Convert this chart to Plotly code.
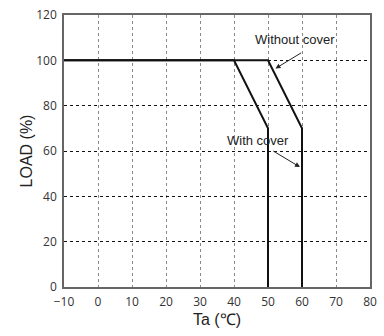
import plotly.graph_objects as go

with_cover_x = [-10, 40, 50, 50]
with_cover_y = [100, 100, 70, 0]
without_cover_x = [-10, 50, 60, 60]
without_cover_y = [100, 100, 70, 0]

x_ticks = [-10, 0, 10, 20, 30, 40, 50, 60, 70, 80]
y_ticks = [0, 20, 40, 60, 80, 100, 120]

fig = go.Figure()
fig.add_trace(go.Scatter(x=without_cover_x, y=without_cover_y, mode="lines",
                         line=dict(color="#111111", width=2), showlegend=False))
fig.add_trace(go.Scatter(x=with_cover_x, y=with_cover_y, mode="lines",
                         line=dict(color="#111111", width=2), showlegend=False))

tickfont = dict(family="Open Sans, Noto Sans, sans-serif", size=12, color="#333333")
titlefont = dict(family="Liberation Sans, Arial, sans-serif", size=16, color="#222222")

fig.update_xaxes(range=[-10, 80], tickvals=x_ticks, showgrid=True, gridcolor="#888888",
                 griddash="dot", gridwidth=1, zeroline=False, showline=True,
                 linecolor="#666666", linewidth=1.5, mirror=True, ticks="",
                 ticklabelstandoff=3, automargin=False,
                 tickfont=tickfont, title=dict(text="Ta (℃)", font=titlefont, standoff=5))
fig.update_yaxes(range=[0, 120], tickvals=y_ticks, showgrid=True, gridcolor="#111111",
                 griddash="dot", gridwidth=1, zeroline=False, showline=True,
                 linecolor="#666666", linewidth=1.5, mirror=True, ticks="",
                 ticklabelstandoff=3, automargin=False,
                 tickfont=tickfont, title=dict(text="LOAD (%)", font=titlefont, standoff=0))

annfont = dict(family="Liberation Sans, Arial, sans-serif", size=13, color="#222222")
fig.add_annotation(x=57.8, y=109, text="Without cover", showarrow=False, font=annfont)
fig.add_annotation(x=52.2, y=96.4, ax=60.2, ay=103.7, xref="x", yref="y",
                   axref="x", ayref="y", text="", showarrow=True, arrowhead=2,
                   arrowsize=1, arrowwidth=1, arrowcolor="#222222", standoff=0)
fig.add_annotation(x=47, y=64.5, text="With cover", showarrow=False, font=annfont)
fig.add_annotation(x=59.4, y=52.9, ax=51.1, ay=60.4, xref="x", yref="y",
                   axref="x", ayref="y", text="", showarrow=True, arrowhead=2,
                   arrowsize=1, arrowwidth=1, arrowcolor="#222222", standoff=0)

fig.update_layout(width=384, height=336, margin=dict(l=64, r=14, t=15, b=49),
                  plot_bgcolor="white", paper_bgcolor="white")
fig.write_html("out.html", config={"displayModeBar": False},
               post_script="document.body.style.margin='0';document.body.style.overflow='hidden';")
